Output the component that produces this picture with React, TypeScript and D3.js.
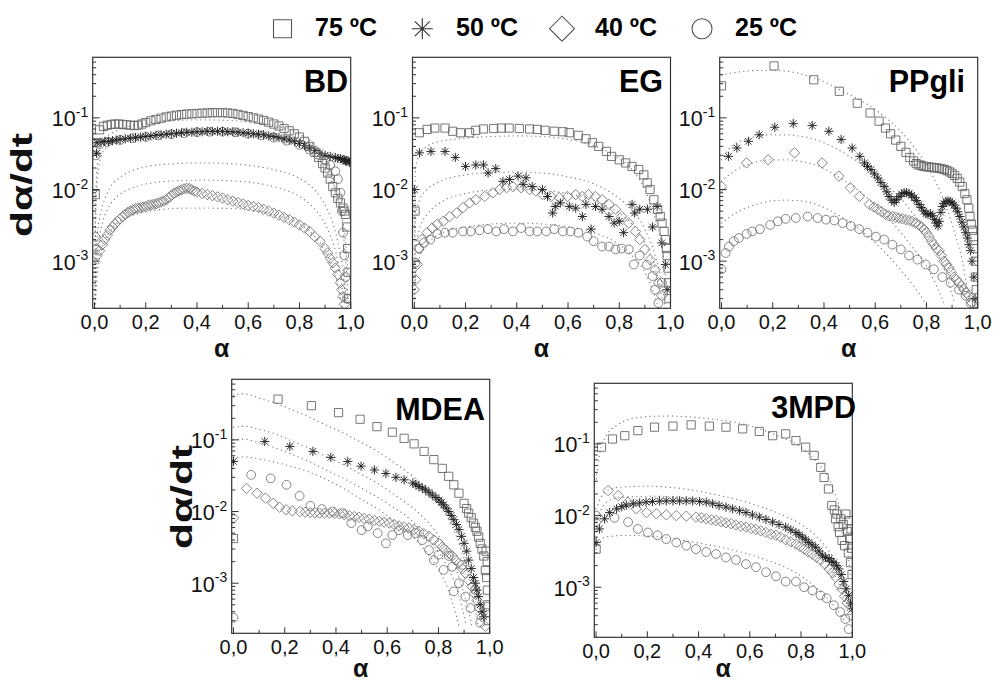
import React from "react";
import * as d3 from "d3";

type Pt = [number, number];

// ---------- text ----------
const seriesLabels = ["75 ºC", "50 ºC", "40 ºC", "25 ºC"];
const seriesShapes = ["square", "star", "diamond", "circle"];
const xTickValues = [0, 0.2, 0.4, 0.6, 0.8, 1.0];
const xTickLabels = ["0,0", "0,2", "0,4", "0,6", "0,8", "1,0"];
const xMinorTicks = [0.1, 0.3, 0.5, 0.7, 0.9];
const yTickValues = [1e-3, 1e-2, 1e-1];
const yTickExponents = ["-3", "-2", "-1"];
const panelNames = ["BD", "EG", "PPgli", "MDEA", "3MPD"];
const yAxisTitle = "dα/dt";
const xAxisTitle = "α";

// ---------- BD ----------
const bd75: Pt[] = [[0.003,0.0085],[0.006,0.045],[0.02,0.068],[0.035,0.076],[0.05,0.079],[0.065,0.081],[0.08,0.082],[0.095,0.082],[0.11,0.081],[0.125,0.08],[0.14,0.079],[0.155,0.078],[0.17,0.079],[0.185,0.082],[0.2,0.086],[0.22,0.091],[0.24,0.095],[0.26,0.099],[0.28,0.103],[0.3,0.106],[0.32,0.109],[0.34,0.111],[0.36,0.113],[0.38,0.114],[0.4,0.115],[0.42,0.116],[0.44,0.117],[0.46,0.118],[0.48,0.118],[0.5,0.118],[0.52,0.117],[0.54,0.115],[0.56,0.112],[0.58,0.108],[0.6,0.104],[0.62,0.1],[0.64,0.096],[0.66,0.092],[0.68,0.087],[0.7,0.082],[0.72,0.077],[0.74,0.071],[0.76,0.066],[0.78,0.06],[0.8,0.054],[0.82,0.047],[0.84,0.04],[0.86,0.033],[0.875,0.028],[0.89,0.023],[0.9,0.02],[0.91,0.017],[0.92,0.014],[0.93,0.011],[0.94,0.009],[0.95,0.0075],[0.96,0.0065],[0.97,0.0055],[0.975,0.005],[0.98,0.0045],[0.985,0.003],[0.988,0.0015],[0.99,0.0007],[0.992,0.0003]];
const bd50: Pt[] = [[0.008,0.032],[0.01,0.045],[0.025,0.046],[0.04,0.047],[0.055,0.047],[0.07,0.048],[0.085,0.049],[0.1,0.05],[0.12,0.051],[0.14,0.052],[0.16,0.053],[0.18,0.054],[0.2,0.055],[0.22,0.056],[0.24,0.057],[0.26,0.058],[0.28,0.059],[0.3,0.06],[0.32,0.061],[0.34,0.062],[0.36,0.063],[0.38,0.063],[0.4,0.064],[0.42,0.064],[0.44,0.065],[0.46,0.065],[0.48,0.065],[0.5,0.065],[0.52,0.064],[0.54,0.064],[0.56,0.063],[0.58,0.062],[0.6,0.061],[0.62,0.06],[0.64,0.059],[0.66,0.058],[0.68,0.056],[0.7,0.055],[0.72,0.053],[0.74,0.051],[0.76,0.049],[0.78,0.047],[0.8,0.044],[0.82,0.041],[0.84,0.038],[0.86,0.035],[0.88,0.032],[0.9,0.03],[0.92,0.029],[0.94,0.028],[0.95,0.027],[0.96,0.027],[0.97,0.026],[0.975,0.026],[0.98,0.025],[0.985,0.025],[0.99,0.025],[0.995,0.024]];
const bd40: Pt[] = [[0.004,0.0022],[0.006,0.0015],[0.01,0.0012],[0.02,0.0014],[0.03,0.0017],[0.04,0.002],[0.05,0.0023],[0.06,0.0027],[0.07,0.003],[0.08,0.0033],[0.09,0.0036],[0.1,0.0039],[0.11,0.0042],[0.12,0.0045],[0.13,0.0048],[0.14,0.005],[0.15,0.0052],[0.16,0.0054],[0.17,0.0055],[0.18,0.0056],[0.19,0.0057],[0.2,0.0058],[0.21,0.006],[0.22,0.0061],[0.23,0.0062],[0.24,0.0063],[0.25,0.0065],[0.26,0.0067],[0.27,0.0069],[0.28,0.0072],[0.29,0.0077],[0.3,0.0083],[0.31,0.0088],[0.32,0.0092],[0.33,0.0096],[0.34,0.0099],[0.35,0.0102],[0.36,0.0104],[0.37,0.0103],[0.38,0.0099],[0.39,0.0095],[0.4,0.0092],[0.42,0.0088],[0.44,0.0085],[0.46,0.0082],[0.48,0.0079],[0.5,0.0076],[0.52,0.0072],[0.54,0.0069],[0.56,0.0066],[0.58,0.0063],[0.6,0.006],[0.62,0.0058],[0.64,0.0056],[0.66,0.0053],[0.68,0.005],[0.7,0.0047],[0.72,0.0044],[0.74,0.0041],[0.76,0.0038],[0.78,0.0035],[0.8,0.0032],[0.82,0.0029],[0.84,0.0026],[0.86,0.0022],[0.88,0.0019],[0.9,0.0015],[0.91,0.0013],[0.92,0.0011],[0.93,0.00095],[0.94,0.0008],[0.95,0.00065],[0.96,0.0005],[0.965,0.0004],[0.97,0.00032],[0.975,0.00025]];
const bd25: Pt[] = [[0.005,0.03],[0.02,0.043],[0.05,0.046],[0.1,0.049],[0.15,0.052],[0.2,0.054],[0.25,0.057],[0.3,0.059],[0.35,0.061],[0.4,0.063],[0.45,0.064],[0.5,0.064],[0.55,0.063],[0.6,0.06],[0.65,0.057],[0.7,0.053],[0.75,0.048],[0.8,0.042],[0.84,0.036],[0.87,0.031],[0.9,0.026],[0.92,0.022],[0.94,0.018],[0.95,0.014],[0.96,0.009],[0.965,0.005],[0.97,0.0025],[0.975,0.0012],[0.98,0.0006],[0.985,0.0003]];
const bdFit75: Pt[] = [[0.001,0.0003],[0.005,0.008],[0.01,0.02],[0.02,0.035],[0.04,0.05],[0.07,0.062],[0.1,0.07],[0.15,0.078],[0.2,0.084],[0.3,0.091],[0.4,0.094],[0.5,0.093],[0.6,0.088],[0.7,0.078],[0.78,0.064],[0.84,0.048],[0.88,0.034],[0.91,0.022],[0.93,0.014],[0.95,0.0075],[0.965,0.0038],[0.975,0.0018],[0.985,0.0006],[0.99,0.00025]];
const bdFit50: Pt[] = [[0.002,0.0008],[0.006,0.006],[0.012,0.015],[0.025,0.028],[0.05,0.04],[0.1,0.05],[0.2,0.057],[0.3,0.06],[0.4,0.061],[0.5,0.06],[0.6,0.057],[0.7,0.051],[0.78,0.043],[0.84,0.033],[0.88,0.025],[0.91,0.017],[0.935,0.011],[0.955,0.0065],[0.97,0.0035],[0.98,0.0018],[0.99,0.0006]];
const bdFit40: Pt[] = [[0.002,0.00025],[0.006,0.001],[0.012,0.0025],[0.02,0.004],[0.035,0.0065],[0.06,0.0105],[0.1,0.0148],[0.15,0.0185],[0.2,0.0208],[0.3,0.0228],[0.4,0.0235],[0.5,0.0232],[0.6,0.0218],[0.7,0.019],[0.78,0.0155],[0.84,0.0115],[0.88,0.008],[0.91,0.0052],[0.935,0.003],[0.955,0.0015],[0.97,0.0007],[0.98,0.0003]];
const bdFit25: Pt[] = [[0.002,0.00022],[0.007,0.0007],[0.015,0.0016],[0.03,0.0033],[0.05,0.0052],[0.08,0.0075],[0.12,0.0095],[0.18,0.0115],[0.25,0.0127],[0.35,0.0134],[0.45,0.0135],[0.55,0.0131],[0.65,0.012],[0.73,0.0102],[0.8,0.008],[0.85,0.0058],[0.89,0.0038],[0.92,0.0023],[0.945,0.0012],[0.96,0.0006],[0.975,0.00025]];
const bdFitLow: Pt[] = [[0.003,0.00022],[0.01,0.0006],[0.02,0.0011],[0.04,0.0019],[0.07,0.0029],[0.11,0.0038],[0.17,0.0046],[0.25,0.0052],[0.35,0.0055],[0.45,0.0055],[0.55,0.0054],[0.65,0.0049],[0.73,0.0042],[0.8,0.0033],[0.85,0.0024],[0.89,0.0016],[0.92,0.001],[0.945,0.00055],[0.96,0.0003],[0.97,0.0002]];

// ---------- EG ----------
const eg75: Pt[] = [[0.003,0.005],[0.02,0.062],[0.05,0.069],[0.08,0.072],[0.12,0.072],[0.15,0.065],[0.18,0.062],[0.216,0.062],[0.24,0.067],[0.27,0.07],[0.31,0.071],[0.34,0.072],[0.37,0.072],[0.41,0.071],[0.45,0.07],[0.48,0.069],[0.51,0.067],[0.546,0.065],[0.58,0.064],[0.605,0.062],[0.64,0.057],[0.67,0.051],[0.695,0.045],[0.72,0.04],[0.75,0.034],[0.77,0.029],[0.8,0.026],[0.825,0.0235],[0.85,0.021],[0.876,0.019],[0.896,0.016],[0.909,0.0124],[0.92,0.01],[0.935,0.0072],[0.95,0.0053],[0.96,0.0042],[0.967,0.0034],[0.975,0.0026],[0.98,0.002],[0.984,0.0015],[0.987,0.0012],[0.99,0.0008],[0.992,0.0005],[0.994,0.0003]];
const eg50: Pt[] = [[0.0,0.01],[0.02,0.0325],[0.065,0.034],[0.12,0.034],[0.16,0.028],[0.2,0.021],[0.24,0.022],[0.27,0.022],[0.288,0.017],[0.318,0.0196],[0.346,0.013],[0.372,0.0138],[0.405,0.0154],[0.425,0.0118],[0.436,0.0146],[0.46,0.011],[0.5,0.01],[0.52,0.008],[0.54,0.0047],[0.55,0.0058],[0.57,0.0065],[0.605,0.0058],[0.63,0.0055],[0.656,0.0042],[0.67,0.0062],[0.69,0.0028],[0.707,0.0058],[0.733,0.0053],[0.76,0.0042],[0.78,0.0034],[0.8,0.0036],[0.817,0.0025],[0.85,0.0062],[0.86,0.0047],[0.88,0.0053],[0.91,0.0053],[0.93,0.003],[0.948,0.0058],[0.966,0.0018],[0.98,0.0009],[0.987,0.0004]];
const eg40: Pt[] = [[0.0,0.0004],[0.005,0.00055],[0.012,0.0009],[0.018,0.0015],[0.03,0.002],[0.05,0.0025],[0.07,0.0029],[0.09,0.0033],[0.113,0.0036],[0.138,0.0042],[0.165,0.0047],[0.19,0.0056],[0.216,0.0065],[0.24,0.0072],[0.275,0.008],[0.307,0.009],[0.333,0.01],[0.36,0.0106],[0.385,0.011],[0.417,0.0106],[0.45,0.01],[0.475,0.0095],[0.5,0.0085],[0.534,0.008],[0.566,0.0077],[0.598,0.008],[0.63,0.0085],[0.656,0.008],[0.68,0.0085],[0.707,0.008],[0.733,0.0072],[0.76,0.0062],[0.785,0.0053],[0.81,0.0042],[0.837,0.0034],[0.863,0.0026],[0.88,0.002],[0.9,0.00146],[0.92,0.00105],[0.94,0.00076],[0.953,0.0005],[0.966,0.00033]];
const eg25: Pt[] = [[0.005,0.00095],[0.018,0.0015],[0.037,0.0018],[0.062,0.002],[0.09,0.0024],[0.12,0.0025],[0.15,0.0025],[0.19,0.0026],[0.22,0.0026],[0.255,0.0027],[0.287,0.0028],[0.32,0.0026],[0.35,0.0028],[0.385,0.0026],[0.417,0.0029],[0.45,0.0026],[0.48,0.0026],[0.515,0.0026],[0.546,0.0028],[0.58,0.0026],[0.61,0.0026],[0.64,0.0025],[0.675,0.0022],[0.7,0.0019],[0.733,0.0016],[0.76,0.0016],[0.785,0.00146],[0.81,0.0015],[0.837,0.00146],[0.857,0.0009],[0.88,0.0012],[0.908,0.00089],[0.93,0.00062],[0.94,0.0004],[0.953,0.00026],[0.966,0.0005]];
const egFit75: Pt[] = [[0.001,0.002],[0.005,0.02],[0.02,0.03],[0.05,0.04],[0.1,0.047],[0.2,0.052],[0.3,0.055],[0.4,0.056],[0.5,0.055],[0.6,0.05],[0.7,0.041],[0.8,0.027],[0.85,0.019],[0.9,0.01],[0.94,0.004],[0.97,0.0013],[0.985,0.0004]];
const egFit50: Pt[] = [[0.001,0.0008],[0.005,0.004],[0.02,0.007],[0.05,0.01],[0.1,0.013],[0.2,0.016],[0.3,0.0172],[0.4,0.0175],[0.5,0.017],[0.6,0.015],[0.7,0.012],[0.8,0.0075],[0.85,0.0052],[0.9,0.0028],[0.94,0.0012],[0.97,0.0004],[0.98,0.0002]];
const egFit40: Pt[] = [[0.001,0.0003],[0.005,0.0015],[0.02,0.0028],[0.05,0.0045],[0.1,0.0065],[0.2,0.0088],[0.3,0.0098],[0.4,0.01],[0.5,0.0097],[0.6,0.0088],[0.7,0.0071],[0.8,0.0047],[0.85,0.0033],[0.9,0.0018],[0.94,0.0008],[0.97,0.00028]];
const egFit25: Pt[] = [[0.001,0.0002],[0.005,0.0006],[0.02,0.0011],[0.05,0.0017],[0.1,0.0024],[0.2,0.003],[0.3,0.0033],[0.4,0.0034],[0.5,0.0033],[0.6,0.003],[0.7,0.0025],[0.8,0.0017],[0.85,0.0012],[0.9,0.0007],[0.93,0.0004],[0.96,0.00018]];

// ---------- PPgli ----------
const pp75: Pt[] = [[0.0,0.28],[0.205,0.53],[0.36,0.34],[0.46,0.235],[0.53,0.16],[0.58,0.117],[0.615,0.09],[0.64,0.072],[0.66,0.06],[0.68,0.049],[0.7,0.04],[0.72,0.033],[0.735,0.028],[0.75,0.025],[0.76,0.023],[0.77,0.022],[0.78,0.0215],[0.79,0.021],[0.8,0.0208],[0.81,0.0206],[0.82,0.0204],[0.83,0.0202],[0.84,0.02],[0.85,0.0198],[0.86,0.0194],[0.87,0.019],[0.88,0.0184],[0.89,0.0176],[0.9,0.0168],[0.91,0.0157],[0.92,0.0143],[0.93,0.0127],[0.94,0.011],[0.95,0.0088],[0.958,0.0072],[0.965,0.0055],[0.97,0.0042],[0.975,0.0033],[0.98,0.0027],[0.985,0.0022],[0.988,0.0015],[0.99,0.001],[0.992,0.0006],[0.994,0.0004],[0.996,0.00026]];
const pp50: Pt[] = [[0.027,0.029],[0.06,0.038],[0.105,0.047],[0.147,0.058],[0.208,0.074],[0.28,0.083],[0.354,0.078],[0.419,0.065],[0.467,0.05],[0.51,0.038],[0.54,0.029],[0.558,0.0235],[0.57,0.021],[0.584,0.019],[0.597,0.0165],[0.61,0.0145],[0.622,0.0125],[0.635,0.011],[0.645,0.0093],[0.654,0.008],[0.664,0.0071],[0.674,0.0066],[0.683,0.0072],[0.693,0.008],[0.703,0.0087],[0.713,0.009],[0.722,0.009],[0.732,0.0088],[0.742,0.0083],[0.752,0.0077],[0.761,0.007],[0.771,0.0062],[0.78,0.0056],[0.79,0.005],[0.798,0.0046],[0.806,0.0045],[0.816,0.0046],[0.824,0.0043],[0.832,0.0038],[0.838,0.0034],[0.845,0.0031],[0.85,0.0036],[0.856,0.0048],[0.862,0.0058],[0.868,0.0064],[0.876,0.0068],[0.884,0.0069],[0.892,0.0068],[0.9,0.0065],[0.907,0.0061],[0.915,0.0055],[0.922,0.0049],[0.93,0.0042],[0.938,0.0035],[0.946,0.003],[0.953,0.0025],[0.96,0.0021],[0.966,0.0017],[0.972,0.0014],[0.978,0.001],[0.985,0.0006],[0.99,0.0003]];
const pp40: Pt[] = [[0.0,0.011],[0.098,0.0235],[0.182,0.026],[0.285,0.0325],[0.393,0.0235],[0.458,0.0154],[0.503,0.0106],[0.538,0.008],[0.577,0.0062],[0.595,0.0057],[0.61,0.0053],[0.625,0.0049],[0.64,0.0045],[0.653,0.0043],[0.667,0.0042],[0.68,0.0041],[0.693,0.004],[0.706,0.0039],[0.72,0.0038],[0.733,0.0037],[0.745,0.0036],[0.758,0.0034],[0.771,0.0032],[0.78,0.003],[0.79,0.0028],[0.8,0.0025],[0.81,0.0022],[0.82,0.0019],[0.829,0.0017],[0.839,0.0015],[0.849,0.0014],[0.858,0.0012],[0.868,0.001],[0.878,0.0009],[0.888,0.0008],[0.897,0.0007],[0.907,0.0006],[0.917,0.00055],[0.927,0.0005],[0.937,0.00045],[0.946,0.0004],[0.956,0.00036],[0.966,0.00033],[0.978,0.00026]];
const pp25: Pt[] = [[0.0,0.00077],[0.016,0.0013],[0.029,0.0016],[0.048,0.0019],[0.068,0.0021],[0.098,0.0024],[0.12,0.0026],[0.15,0.0028],[0.19,0.0032],[0.22,0.0036],[0.25,0.0039],[0.29,0.004],[0.336,0.0042],[0.375,0.004],[0.408,0.0038],[0.44,0.0037],[0.473,0.0034],[0.505,0.0031],[0.538,0.0028],[0.57,0.0025],[0.603,0.0022],[0.635,0.002],[0.667,0.0017],[0.7,0.00146],[0.732,0.0012],[0.765,0.00105],[0.797,0.0009],[0.829,0.00077],[0.862,0.0006],[0.894,0.0005],[0.927,0.0004],[0.953,0.00033],[0.972,0.00026]];
const ppFit75: Pt[] = [[0.0,0.4],[0.05,0.43],[0.1,0.45],[0.15,0.46],[0.2,0.46],[0.25,0.45],[0.3,0.42],[0.35,0.37],[0.4,0.32],[0.45,0.26],[0.5,0.21],[0.55,0.17],[0.6,0.13],[0.65,0.095],[0.7,0.065],[0.75,0.04],[0.8,0.022],[0.84,0.012],[0.88,0.0055],[0.91,0.0025],[0.94,0.001],[0.96,0.0004],[0.975,0.0002]];
const ppFit50: Pt[] = [[0.0,0.026],[0.03,0.037],[0.06,0.045],[0.1,0.051],[0.15,0.056],[0.2,0.058],[0.25,0.058],[0.3,0.056],[0.35,0.052],[0.4,0.045],[0.45,0.037],[0.5,0.029],[0.55,0.022],[0.6,0.016],[0.65,0.011],[0.7,0.0075],[0.75,0.0045],[0.8,0.0026],[0.85,0.0012],[0.88,0.0006],[0.91,0.00025]];
const ppFit40: Pt[] = [[0.0,0.013],[0.03,0.016],[0.06,0.019],[0.1,0.022],[0.15,0.025],[0.2,0.026],[0.25,0.026],[0.3,0.025],[0.35,0.023],[0.4,0.0195],[0.45,0.0155],[0.5,0.012],[0.55,0.0088],[0.6,0.006],[0.65,0.004],[0.7,0.0025],[0.75,0.0015],[0.8,0.00085],[0.84,0.00045],[0.87,0.00025]];
const ppFit25: Pt[] = [[0.0,0.0034],[0.03,0.0041],[0.06,0.0048],[0.1,0.0056],[0.15,0.0064],[0.2,0.007],[0.25,0.0071],[0.3,0.007],[0.35,0.0065],[0.4,0.0056],[0.45,0.0045],[0.5,0.0035],[0.55,0.0026],[0.6,0.0018],[0.65,0.0012],[0.7,0.00075],[0.75,0.00045],[0.79,0.00028],[0.81,0.00021]];

// ---------- MDEA ----------
const md75: Pt[] = [[0.0,0.0042],[0.174,0.37],[0.304,0.3],[0.41,0.24],[0.494,0.194],[0.56,0.153],[0.62,0.128],[0.666,0.105],[0.705,0.088],[0.744,0.069],[0.782,0.053],[0.815,0.04],[0.84,0.031],[0.86,0.0236],[0.88,0.018],[0.9,0.013],[0.91,0.011],[0.918,0.0095],[0.928,0.0082],[0.937,0.0069],[0.944,0.006],[0.95,0.0053],[0.957,0.0044],[0.963,0.0036],[0.97,0.003],[0.977,0.0024],[0.983,0.0015],[0.986,0.0028],[0.988,0.0012],[0.99,0.002],[0.991,0.0008],[0.993,0.0005],[0.995,0.0003]];
const md50: Pt[] = [[0.0,0.05],[0.122,0.095],[0.22,0.081],[0.31,0.069],[0.38,0.057],[0.446,0.05],[0.498,0.043],[0.55,0.038],[0.595,0.034],[0.634,0.03],[0.666,0.0277],[0.7,0.025],[0.712,0.0237],[0.724,0.0224],[0.737,0.0212],[0.75,0.02],[0.763,0.0185],[0.776,0.017],[0.79,0.0157],[0.802,0.0145],[0.811,0.0134],[0.82,0.0124],[0.83,0.0112],[0.84,0.01],[0.85,0.0088],[0.86,0.0077],[0.87,0.0066],[0.88,0.0056],[0.89,0.0045],[0.9,0.0036],[0.91,0.0028],[0.918,0.0021],[0.928,0.0016],[0.937,0.0012],[0.944,0.001],[0.95,0.0008],[0.957,0.00065],[0.963,0.0005],[0.97,0.0004],[0.977,0.00034]];
const md40: Pt[] = [[0.0,0.0081],[0.051,0.021],[0.092,0.018],[0.125,0.0154],[0.155,0.013],[0.18,0.0115],[0.205,0.0106],[0.23,0.0102],[0.259,0.01],[0.28,0.0098],[0.3,0.0097],[0.318,0.0096],[0.336,0.0095],[0.355,0.0095],[0.375,0.0095],[0.395,0.0094],[0.414,0.0093],[0.433,0.009],[0.453,0.0087],[0.472,0.0085],[0.49,0.0083],[0.51,0.008],[0.53,0.0078],[0.55,0.0075],[0.569,0.0073],[0.588,0.0071],[0.608,0.0069],[0.627,0.0066],[0.646,0.0063],[0.665,0.0061],[0.685,0.0059],[0.705,0.0056],[0.724,0.0053],[0.743,0.0049],[0.763,0.0045],[0.782,0.004],[0.802,0.0036],[0.815,0.0032],[0.828,0.0029],[0.841,0.0026],[0.854,0.0024],[0.867,0.0021],[0.88,0.0019],[0.893,0.0016],[0.905,0.00138],[0.918,0.0011],[0.93,0.0009],[0.94,0.00072],[0.95,0.00058],[0.96,0.00045],[0.97,0.00034],[0.983,0.00025]];
const md25: Pt[] = [[0.0,0.00033],[0.069,0.0325],[0.145,0.029],[0.207,0.0236],[0.258,0.0165],[0.3,0.012],[0.345,0.0108],[0.388,0.01],[0.427,0.0095],[0.46,0.0069],[0.5,0.0055],[0.524,0.0062],[0.563,0.005],[0.595,0.0036],[0.62,0.0047],[0.646,0.0055],[0.68,0.0047],[0.71,0.005],[0.737,0.004],[0.763,0.0029],[0.782,0.0021],[0.8,0.0025],[0.82,0.00153],[0.84,0.0024],[0.854,0.0017],[0.86,0.00077],[0.88,0.001],[0.893,0.0018],[0.905,0.00065],[0.925,0.00045],[0.944,0.0008],[0.963,0.00028],[0.99,0.00047]];
const mdFit75: Pt[] = [[0.0,0.42],[0.03,0.44],[0.06,0.43],[0.103,0.38],[0.17,0.32],[0.232,0.26],[0.3,0.205],[0.362,0.16],[0.43,0.125],[0.491,0.095],[0.56,0.07],[0.62,0.05],[0.69,0.033],[0.75,0.021],[0.79,0.014],[0.828,0.0095],[0.855,0.006],[0.88,0.0036],[0.9,0.0021],[0.918,0.0012],[0.932,0.0007],[0.944,0.00042],[0.955,0.00025]];
const mdFit50: Pt[] = [[0.0,0.15],[0.04,0.155],[0.103,0.14],[0.17,0.118],[0.232,0.095],[0.3,0.075],[0.362,0.058],[0.43,0.045],[0.491,0.034],[0.56,0.025],[0.62,0.018],[0.69,0.012],[0.75,0.0077],[0.79,0.0052],[0.828,0.0032],[0.855,0.0021],[0.88,0.0012],[0.9,0.0007],[0.918,0.00042],[0.93,0.00025]];
const mdFit40: Pt[] = [[0.0,0.1],[0.04,0.102],[0.103,0.09],[0.17,0.076],[0.232,0.062],[0.3,0.049],[0.362,0.038],[0.43,0.029],[0.491,0.022],[0.56,0.016],[0.62,0.0117],[0.69,0.0078],[0.75,0.0045],[0.79,0.003],[0.828,0.0019],[0.855,0.0012],[0.88,0.00066],[0.9,0.00035],[0.91,0.00025]];
const mdFit25: Pt[] = [[0.0,0.055],[0.04,0.058],[0.103,0.054],[0.17,0.048],[0.232,0.042],[0.3,0.035],[0.362,0.028],[0.43,0.021],[0.491,0.0154],[0.56,0.011],[0.62,0.0077],[0.69,0.0048],[0.75,0.0028],[0.79,0.0018],[0.828,0.001],[0.85,0.0006],[0.87,0.00035],[0.88,0.00025]];

// ---------- 3MPD ----------
const mp75: Pt[] = [[0.0,0.0034],[0.021,0.09],[0.064,0.117],[0.112,0.13],[0.163,0.153],[0.228,0.171],[0.3,0.177],[0.371,0.184],[0.442,0.177],[0.507,0.171],[0.572,0.162],[0.637,0.149],[0.689,0.13],[0.74,0.138],[0.78,0.111],[0.818,0.09],[0.851,0.069],[0.877,0.047],[0.89,0.034],[0.907,0.0235],[0.92,0.0138],[0.93,0.012],[0.935,0.009],[0.94,0.0105],[0.945,0.007],[0.95,0.0058],[0.955,0.009],[0.96,0.0045],[0.965,0.0075],[0.97,0.0038],[0.975,0.0105],[0.98,0.006],[0.985,0.003],[0.988,0.0085],[0.99,0.0048],[0.993,0.0022],[0.995,0.0065],[0.997,0.0035],[0.999,0.0015]];
const mp50: Pt[] = [[0.0,0.0042],[0.013,0.0065],[0.033,0.009],[0.053,0.011],[0.08,0.0124],[0.1,0.0133],[0.118,0.014],[0.145,0.0146],[0.17,0.015],[0.195,0.0154],[0.22,0.0157],[0.248,0.0159],[0.274,0.016],[0.3,0.016],[0.326,0.016],[0.352,0.016],[0.377,0.016],[0.404,0.0157],[0.43,0.0154],[0.455,0.0146],[0.48,0.0138],[0.507,0.0131],[0.533,0.0124],[0.56,0.0117],[0.585,0.011],[0.61,0.0102],[0.637,0.0095],[0.663,0.0088],[0.689,0.0081],[0.714,0.0075],[0.74,0.0069],[0.76,0.0063],[0.78,0.0058],[0.792,0.0054],[0.805,0.005],[0.818,0.0046],[0.83,0.0042],[0.843,0.0039],[0.857,0.0036],[0.87,0.0032],[0.883,0.0028],[0.896,0.0026],[0.91,0.0025],[0.92,0.0023],[0.928,0.0022],[0.938,0.002],[0.948,0.0018],[0.957,0.0015],[0.967,0.0012],[0.976,0.00095],[0.986,0.00077],[0.993,0.0006],[1.0,0.0005]];
const mp40: Pt[] = [[0.0,0.0081],[0.047,0.0223],[0.086,0.019],[0.125,0.0154],[0.157,0.0124],[0.197,0.011],[0.235,0.0106],[0.274,0.0102],[0.313,0.01],[0.352,0.0098],[0.39,0.0095],[0.41,0.0093],[0.43,0.009],[0.45,0.0087],[0.468,0.0085],[0.488,0.0082],[0.507,0.0079],[0.527,0.0077],[0.546,0.0074],[0.565,0.0071],[0.585,0.0069],[0.605,0.0066],[0.624,0.0064],[0.643,0.0061],[0.663,0.0058],[0.682,0.0055],[0.702,0.0053],[0.72,0.005],[0.74,0.0046],[0.76,0.0043],[0.78,0.004],[0.796,0.0037],[0.812,0.0034],[0.828,0.0031],[0.844,0.0029],[0.86,0.0026],[0.876,0.0024],[0.893,0.0021],[0.91,0.0018],[0.922,0.0016],[0.935,0.00138],[0.948,0.0011],[0.96,0.00094],[0.97,0.00075],[0.98,0.0006],[0.993,0.0004]];
const mp25: Pt[] = [[0.0,0.01],[0.072,0.0093],[0.125,0.0081],[0.163,0.0065],[0.202,0.0058],[0.24,0.0053],[0.274,0.0047],[0.313,0.0042],[0.352,0.0038],[0.39,0.0034],[0.43,0.0031],[0.468,0.0029],[0.507,0.0026],[0.546,0.0024],[0.585,0.0021],[0.624,0.0019],[0.663,0.00162],[0.702,0.00142],[0.74,0.0012],[0.78,0.0012],[0.812,0.001],[0.844,0.0009],[0.876,0.00077],[0.9,0.0007],[0.928,0.00056],[0.953,0.00045],[0.973,0.00036],[0.986,0.00026]];
const mpFit75: Pt[] = [[0.0,0.0325],[0.015,0.076],[0.04,0.13],[0.08,0.18],[0.12,0.215],[0.17,0.235],[0.23,0.243],[0.29,0.245],[0.35,0.24],[0.415,0.23],[0.48,0.215],[0.545,0.2],[0.61,0.175],[0.675,0.145],[0.73,0.12],[0.78,0.1],[0.82,0.078],[0.857,0.058],[0.885,0.044],[0.91,0.0325],[0.93,0.021],[0.948,0.0138],[0.962,0.0085],[0.973,0.0052],[0.984,0.0028],[0.993,0.0014]];
const mpFit50: Pt[] = [[0.0,0.0124],[0.033,0.021],[0.09,0.0249],[0.197,0.0256],[0.326,0.024],[0.455,0.02],[0.585,0.0154],[0.715,0.0106],[0.805,0.0073],[0.883,0.0042],[0.935,0.0022],[0.973,0.00095],[0.993,0.0004]];
const mpFit40: Pt[] = [[0.0,0.0081],[0.04,0.0154],[0.1,0.018],[0.235,0.0186],[0.39,0.017],[0.52,0.0138],[0.65,0.01],[0.753,0.0065],[0.843,0.0038],[0.908,0.002],[0.96,0.00086],[0.992,0.00033]];
const mpFit25: Pt[] = [[0.0,0.0034],[0.034,0.005],[0.12,0.0053],[0.25,0.005],[0.39,0.0042],[0.52,0.0034],[0.65,0.0025],[0.779,0.0016],[0.857,0.001],[0.92,0.0006],[0.973,0.00033]];

// ---------- assembling ----------
const panelSeries: Record<string, Pt[][]> = {
  BD: [bd75, bd50, bd40, bd25],
  EG: [eg75, eg50, eg40, eg25],
  PPgli: [pp75, pp50, pp40, pp25],
  MDEA: [md75, md50, md40, md25],
  "3MPD": [mp75, mp50, mp40, mp25],
};
const panelFits: Record<string, Pt[][]> = {
  BD: [bdFit75, bdFit50, bdFit40, bdFit25, bdFitLow],
  EG: [egFit75, egFit50, egFit40, egFit25],
  PPgli: [ppFit75, ppFit50, ppFit40, ppFit25],
  MDEA: [mdFit75, mdFit50, mdFit40, mdFit25],
  "3MPD": [mpFit75, mpFit50, mpFit40, mpFit25],
};

// ---------- layout (pixels) ----------
const PANEL_W = 258;
const X_DOMAIN: [number, number] = [-0.007, 1.0];
const Y_MAX = 0.7;
const layout: Record<string, any> = {
  BD: { left: 92.7, top: 57.3, height: 251, ymin: 2.2e-4, titleRight: 348, titleBase: 92, xTitleBase: 357, yTitle: [32, 185] },
  EG: { left: 412.5, top: 57.3, height: 251, ymin: 2.2e-4, titleRight: 663, titleBase: 92, xTitleBase: 357 },
  PPgli: { left: 719.7, top: 57.3, height: 251, ymin: 2.2e-4, titleRight: 965, titleBase: 92, xTitleBase: 357 },
  MDEA: { left: 231.7, top: 379.3, height: 254, ymin: 2.0e-4, titleRight: 485, titleBase: 420, xTitleBase: 677, yTitle: [192, 497] },
  "3MPD": { left: 594.3, top: 383.3, height: 254, ymin: 2.0e-4, titleRight: 856, titleBase: 418, xTitleBase: 677 },
};

const FONT = "'Liberation Sans', Arial, Helvetica, sans-serif";
const markerStyle: Record<string, { stroke: string; sw: number; size: number }> = {
  square: { stroke: "#666", sw: 0.9, size: 4.1 },
  star: { stroke: "#222", sw: 0.95, size: 4.6 },
  diamond: { stroke: "#777", sw: 0.9, size: 5.2 },
  circle: { stroke: "#777", sw: 0.9, size: 4.4 },
};

function markerPath(shape: string, x: number, y: number, r: number): string {
  if (shape === "square") return `M${x - r},${y - r}h${2 * r}v${2 * r}h${-2 * r}Z`;
  if (shape === "diamond") return `M${x},${y - r}L${x + r},${y}L${x},${y + r}L${x - r},${y}Z`;
  if (shape === "circle") return `M${x - r},${y}a${r},${r} 0 1,0 ${2 * r},0a${r},${r} 0 1,0 ${-2 * r},0`;
  const d = r * 0.7071;
  return `M${x - r},${y}h${2 * r}M${x},${y - r}v${2 * r}M${x - d},${y - d}l${2 * d},${2 * d}M${x - d},${y + d}l${2 * d},${-2 * d}`;
}

function Panel({ name }: { name: string }) {
  const L = layout[name];
  const x = d3.scaleLinear().domain(X_DOMAIN).range([L.left, L.left + PANEL_W]);
  const y = d3.scaleLog().domain([L.ymin, Y_MAX]).range([L.top + L.height, L.top]);
  const bottom = L.top + L.height;
  const right = L.left + PANEL_W;
  const line = d3
    .line<Pt>()
    .x((d) => x(d[0]))
    .y((d) => y(d[1]))
    .curve(d3.curveMonotoneX);
  const clipId = `clip-${name}`;
  const series = panelSeries[name];
  const fits = panelFits[name];
  const order = [3, 2, 1, 0];

  const minor: number[] = [];
  for (let e = -4; e <= 0; e++) {
    for (let k = 2; k <= 9; k++) {
      const v = k * Math.pow(10, e);
      if (v > L.ymin && v < Y_MAX) minor.push(v);
    }
  }

  return (
    <g>
      <defs>
        <clipPath id={clipId}>
          <rect x={L.left} y={L.top} width={PANEL_W} height={L.height} />
        </clipPath>
      </defs>
      <g clipPath={`url(#${clipId})`}>
        {fits.map((f, i) => (
          <path
            key={"f" + i}
            d={line(f) || ""}
            fill="none"
            stroke="#808080"
            strokeWidth={1.3}
            strokeDasharray="0.1 4.4"
            strokeLinecap="round"
          />
        ))}
        {order.map((si) => {
          const shape = seriesShapes[si];
          const st = markerStyle[shape];
          const d = series[si].map((p) => markerPath(shape, x(p[0]), y(p[1]), st.size)).join("");
          return <path key={"s" + si} d={d} fill="none" stroke={st.stroke} strokeWidth={st.sw} />;
        })}
      </g>
      <rect x={L.left} y={L.top} width={PANEL_W} height={L.height} fill="none" stroke="#333" strokeWidth={1.2} />
      {xTickValues.map((v, i) => (
        <g key={"xt" + i}>
          <line x1={x(v)} x2={x(v)} y1={bottom} y2={bottom - 6} stroke="#333" strokeWidth={1} />
          <text x={x(v)} y={bottom + 21} textAnchor="middle" fontSize={20} fontFamily={FONT} fill="#111">
            {xTickLabels[i]}
          </text>
        </g>
      ))}
      {xMinorTicks.map((v, i) => (
        <line key={"xm" + i} x1={x(v)} x2={x(v)} y1={bottom} y2={bottom - 3.5} stroke="#333" strokeWidth={1} />
      ))}
      {yTickValues.map((v, i) => (
        <g key={"yt" + i}>
          <line x1={L.left} x2={L.left + 7} y1={y(v)} y2={y(v)} stroke="#333" strokeWidth={1} />
          <text x={L.left - 4.5} y={y(v) + 8.5} textAnchor="end" fontSize={21.5} fontFamily={FONT} fill="#111">
            <tspan>10</tspan>
            <tspan dy={-9.5} fontSize={14}>
              {yTickExponents[i]}
            </tspan>
          </text>
        </g>
      ))}
      {minor.map((v, i) => (
        <line key={"ym" + i} x1={L.left} x2={L.left + 3.5} y1={y(v)} y2={y(v)} stroke="#333" strokeWidth={1} />
      ))}
      <text x={L.titleRight} y={L.titleBase} textAnchor="end" fontSize={30.5} fontWeight="bold" fontFamily={FONT} fill="#000">
        {name}
      </text>
      <text
        x={(L.left + right) / 2}
        y={L.xTitleBase}
        textAnchor="middle"
        fontSize={25}
        fontWeight="bold"
        fontFamily={FONT}
        fill="#111"
      >
        {xAxisTitle}
      </text>
      {L.yTitle && (
        <text
          transform={`translate(${L.yTitle[0]},${L.yTitle[1]}) rotate(-90)`}
          textAnchor="middle"
          fontSize={30}
          fontWeight="bold"
          fontFamily={FONT}
          fill="#111"
          textLength={104}
          lengthAdjust="spacingAndGlyphs"
        >
          {yAxisTitle}
        </text>
      )}
    </g>
  );
}

const legendPos = [
  { mx: 282.5, tx: 315 },
  { mx: 422.3, tx: 456 },
  { mx: 562, tx: 595 },
  { mx: 702, tx: 735 },
];
const legendSize: Record<string, number> = { square: 9, star: 10.5, diamond: 12.5, circle: 10 };

export default function App() {
  return (
    <svg
      width={1000}
      height={684}
      viewBox="0 0 1000 684"
      style={{ position: "absolute", left: 0, top: 0, background: "#fff" }}
    >
      <rect x={0} y={0} width={1000} height={684} fill="#fff" />
      {seriesLabels.map((lab, i) => {
        const shape = seriesShapes[i];
        return (
          <g key={"lg" + i}>
            <path
              d={markerPath(shape, legendPos[i].mx, 28.7, legendSize[shape])}
              fill="none"
              stroke={shape === "star" ? "#333" : "#555"}
              strokeWidth={1.1}
            />
            <text x={legendPos[i].tx} y={36} fontSize={25} fontWeight="bold" fontFamily={FONT} fill="#000">
              {lab}
            </text>
          </g>
        );
      })}
      {panelNames.map((n) => (
        <Panel key={n} name={n} />
      ))}
    </svg>
  );
}
